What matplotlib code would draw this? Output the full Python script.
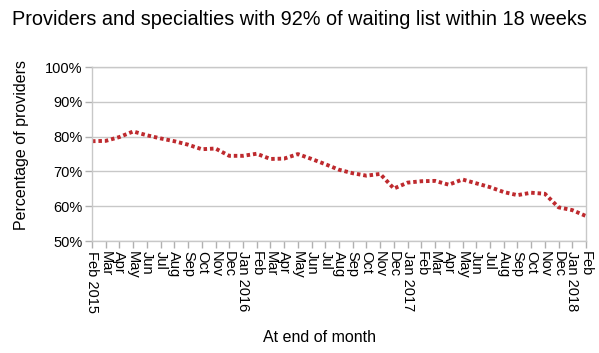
import numpy as np
import matplotlib
matplotlib.use("Agg")
import matplotlib.pyplot as plt

plt.rcParams['font.family'] = ['Liberation Sans', 'DejaVu Sans']

# month labels, end of month
months = ['Feb 2015', 'Mar', 'Apr', 'May', 'Jun', 'Jul', 'Aug', 'Sep', 'Oct', 'Nov', 'Dec',
          'Jan 2016', 'Feb', 'Mar', 'Apr', 'May', 'Jun', 'Jul', 'Aug', 'Sep', 'Oct', 'Nov', 'Dec',
          'Jan 2017', 'Feb', 'Mar', 'Apr', 'May', 'Jun', 'Jul', 'Aug', 'Sep', 'Oct', 'Nov', 'Dec',
          'Jan 2018', 'Feb']

# percentage of providers meeting 92% within 18 weeks
pct_providers = [78.7, 78.8, 79.9, 81.5, 80.4, 79.5, 78.7, 77.7, 76.4, 76.6, 74.5,
                 74.5, 75.1, 73.6, 73.7, 75.0, 73.6, 72.1, 70.5, 69.5, 68.8, 69.3, 65.1,
                 66.8, 67.2, 67.3, 66.2, 67.7, 66.6, 65.5, 64.1, 63.2, 63.9, 63.6, 59.7,
                 58.9, 57.2]

fig = plt.figure(figsize=(5.99, 3.53), dpi=100)
ax = fig.add_axes([0.1536, 0.317, 0.8247, 0.493])

x = np.arange(len(months))
ax.plot(x, pct_providers, color='#be2a2e', linewidth=2.8, linestyle=(0, (0.9, 0.75)),
        solid_capstyle='butt', dash_capstyle='butt')

ax.set_xlim(0, len(months) - 1)
ax.set_ylim(50, 100)
ax.set_yticks(np.arange(50, 101, 10))
ax.set_yticklabels([f'{v}%' for v in range(50, 101, 10)], fontsize=10.5)
ax.set_xticks(x)
ax.set_xticklabels(months, rotation=-90, fontsize=10.5, va='top', ha='center')

ax.grid(axis='y', color='#c8c8c8', linewidth=1)
ax.set_axisbelow(True)
for s in ax.spines.values():
    s.set_color('#c8c8c8')
    s.set_linewidth(1)
ax.tick_params(axis='both', color='#b0b0b0', length=5, width=1, pad=2)

ax.set_ylabel('Percentage of providers', fontsize=11.5, va='center')
ax.yaxis.set_label_coords(-0.142, 0.552)
ax.set_xlabel('At end of month', fontsize=11.5, va='center')
ax.xaxis.set_label_coords(0.46, -0.553)
fig.suptitle('Providers and specialties with 92% of waiting list within 18 weeks',
             fontsize=14.3, x=0.5, y=0.946, va='center')

fig.savefig('out.png', dpi=100)
